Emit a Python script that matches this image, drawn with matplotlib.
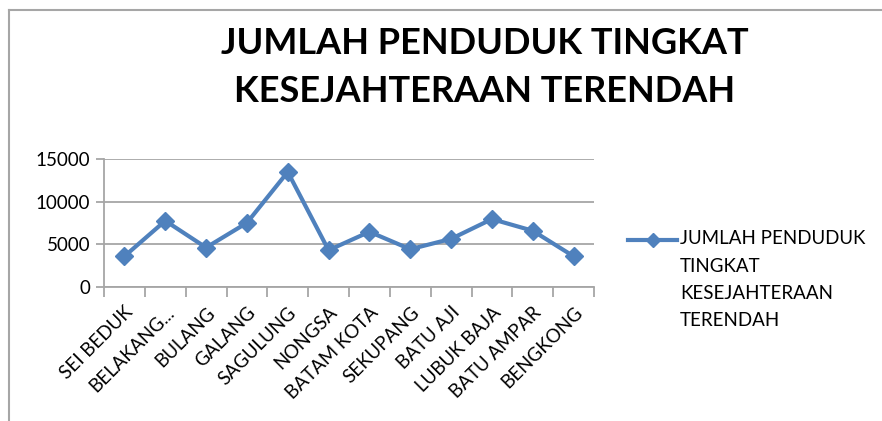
import matplotlib
matplotlib.use("Agg")
import matplotlib.pyplot as plt
from matplotlib.lines import Line2D

# Data
kecamatan = ["SEI BEDUK", "BELAKANG...", "BULANG", "GALANG", "SAGULUNG", "NONGSA",
             "BATAM KOTA", "SEKUPANG", "BATU AJI", "LUBUK BAJA", "BATU AMPAR", "BENGKONG"]
penduduk = [3600, 7760, 4620, 7520, 13480, 4310, 6470, 4430, 5640, 7960, 6590, 3600]
y_ticks = [0, 5000, 10000, 15000]
series_name = "JUMLAH PENDUDUK\nTINGKAT\nKESEJAHTERAAN\nTERENDAH"

plt.rcParams["font.family"] = ["Lato", "DejaVu Sans"]
blue = "#4F81BD"
grey = "#A6A6A6"

fig = plt.figure(figsize=(8.82, 4.21), dpi=100)
ax = fig.add_axes([104 / 882, 1 - 287 / 421, 490 / 882, 128 / 421])

x = list(range(len(kecamatan)))
ax.plot(x, penduduk, color=blue, linewidth=3, marker="D", markersize=9)

ax.set_xlim(-0.5, len(kecamatan) - 0.5)
ax.set_ylim(0, 15000)
ax.set_yticks(y_ticks)
ax.set_yticklabels([str(v) for v in y_ticks], fontsize=13.5)
ax.yaxis.grid(True, color=grey, linewidth=1.3)
ax.set_axisbelow(True)

# category labels at centres, ticks at boundaries
ax.set_xticks([i - 0.5 for i in range(len(kecamatan) + 1)])
ax.set_xticklabels([])
ax.set_xticks(x, minor=True)
ax.set_xticklabels(kecamatan, minor=True, rotation=45, ha="right",
                   rotation_mode="anchor", fontsize=13.5)
ax.tick_params(axis="x", which="minor", length=0, pad=12)
ax.tick_params(axis="x", which="major", length=7, width=1.3, color=grey)
ax.tick_params(axis="y", length=6, width=1.3, color=grey, pad=4)

for s in ["top", "right"]:
    ax.spines[s].set_visible(False)
for s in ["left", "bottom"]:
    ax.spines[s].set_color(grey)
    ax.spines[s].set_linewidth(1.3)

fig.text(485 / 882, 1 - 44 / 421, "JUMLAH PENDUDUK TINGKAT", ha="center", va="center",
         fontsize=26, fontweight="bold")
fig.text(485 / 882, 1 - 92 / 421, "KESEJAHTERAAN TERENDAH", ha="center", va="center",
         fontsize=26, fontweight="bold")

# legend: handle next to the first line of the label
ly = 1 - 240 / 421
fig.add_artist(Line2D([628 / 882, 677 / 882], [ly, ly], color=blue, linewidth=3))
fig.add_artist(Line2D([652.5 / 882], [ly], color=blue, marker="D", markersize=7))
fig.text(680 / 882, 1 - 230 / 421, series_name, ha="left", va="top",
         fontsize=13.5, linespacing=1.75)

# chart border (top and left visible)
fig.add_artist(Line2D([9 / 882, 1], [1 - 10 / 421, 1 - 10 / 421], color=grey, linewidth=1.5))
fig.add_artist(Line2D([9 / 882, 9 / 882], [0, 1 - 10 / 421], color=grey, linewidth=1.5))

fig.savefig("out.png", dpi=100)
